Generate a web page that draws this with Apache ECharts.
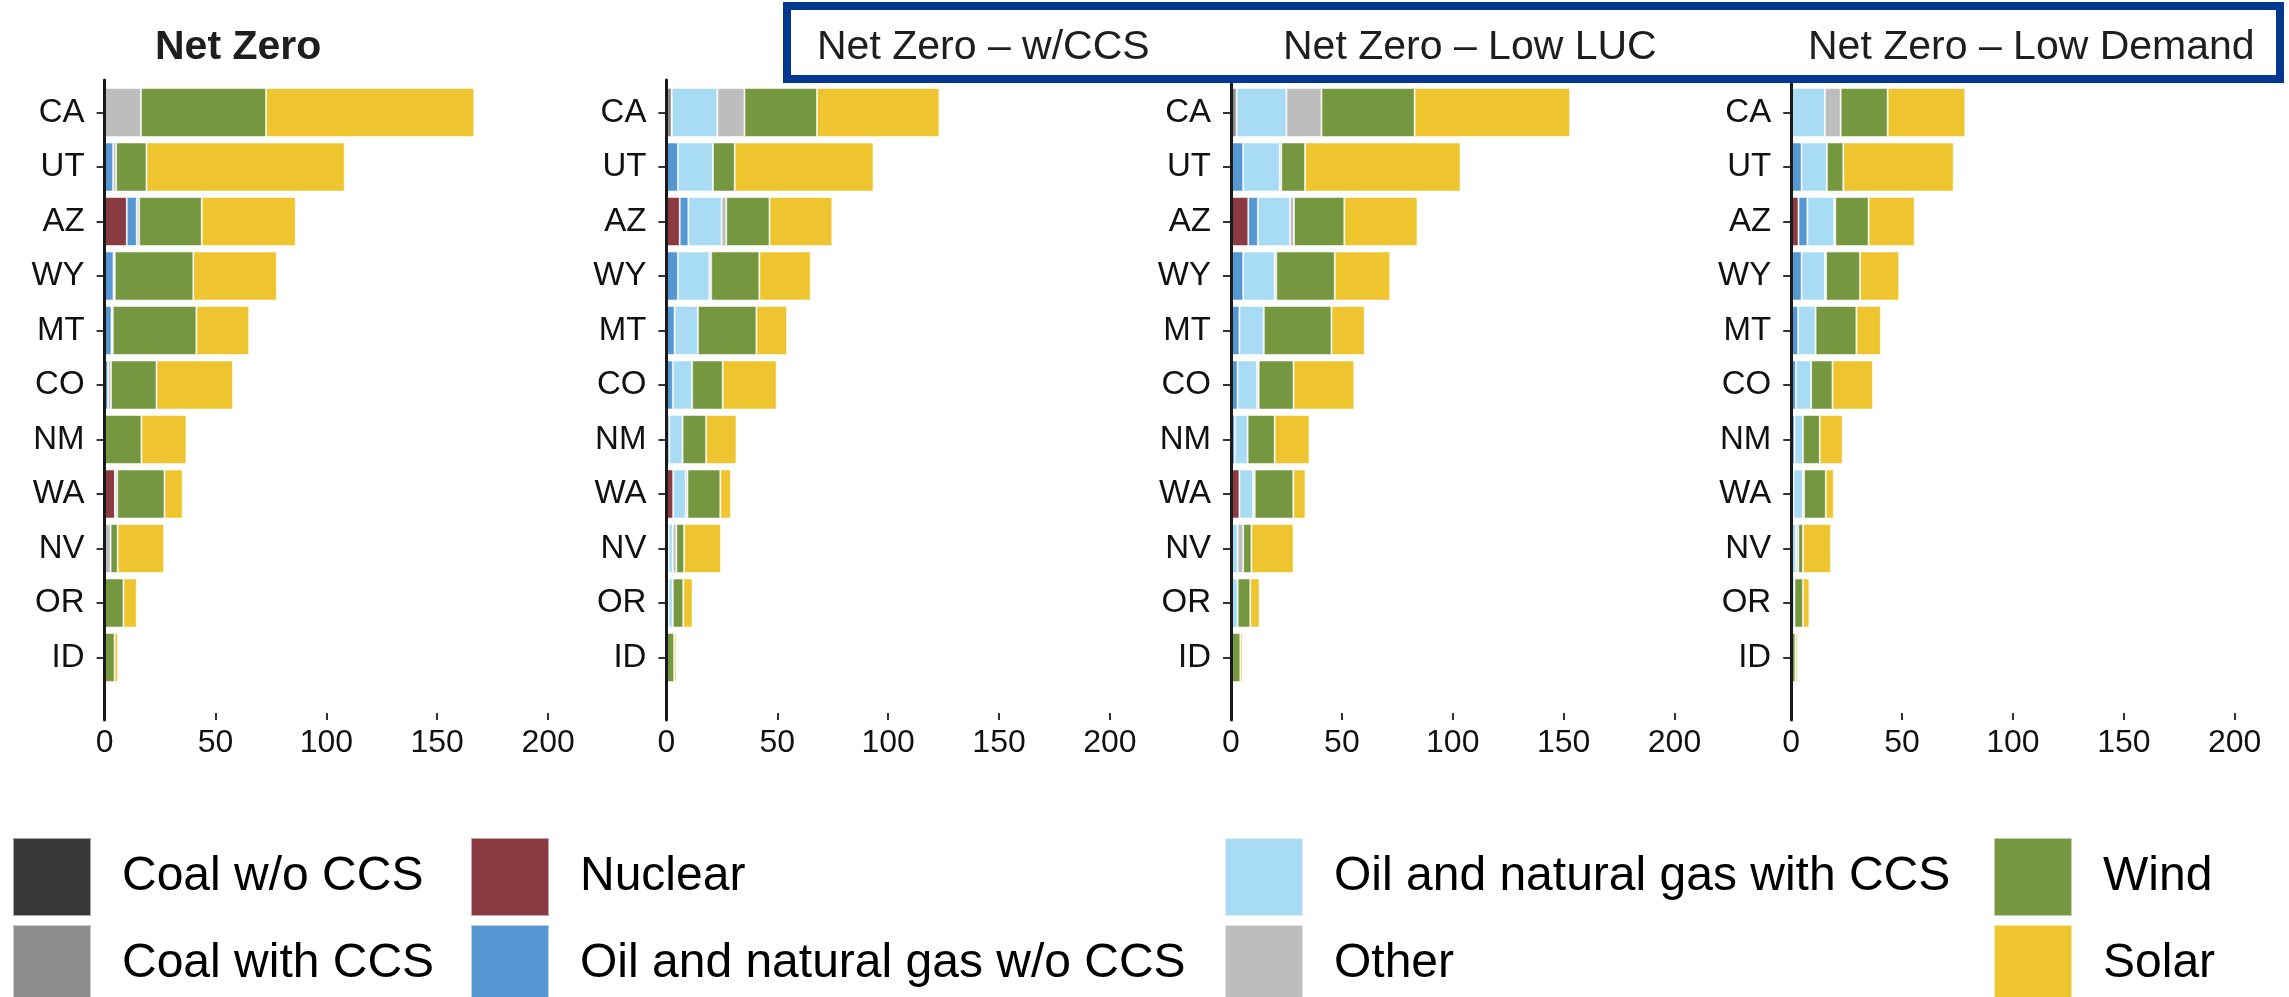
<!DOCTYPE html>
<html>
<head>
<meta charset="utf-8">
<script src="https://cdn.jsdelivr.net/npm/echarts@6/dist/echarts.min.js"></script>
<style>
  html, body { margin: 0; padding: 0; background: #ffffff; }
  #chart { width: 2289px; height: 997px; }
</style>
</head>
<body>
<div id="chart"></div>
<script>
// ---------- data ----------
const states = ['CA', 'UT', 'AZ', 'WY', 'MT', 'CO', 'NM', 'WA', 'NV', 'OR', 'ID'];
const scenarios = ['Net Zero', 'Net Zero – w/CCS', 'Net Zero – Low LUC', 'Net Zero – Low Demand'];
const techs = ['Coal w/o CCS', 'Coal with CCS', 'Nuclear', 'Oil and natural gas w/o CCS',
               'Oil and natural gas with CCS', 'Other', 'Wind', 'Solar'];
const techColors = ['#383838', '#8c8c8c', '#8b3a42', '#5597d3', '#a8dcf5', '#bdbdbd', '#74973f', '#eec52e'];
const xTicks = [0, 50, 100, 150, 200];

// Net Zero
const nz_coalWo   = [0, 0, 0, 0, 0, 0, 0, 0, 0, 0, 0];
const nz_coalWith = [0, 0, 0, 0, 0, 0, 0, 0, 0, 0, 0];
const nz_nuclear  = [0, 0, 10.0, 0, 0, 0, 0, 4.7, 0, 0, 0];
const nz_gasWo    = [0, 3.9, 4.5, 4.0, 3.1, 1.6, 0, 0, 0, 0, 0];
const nz_gasWith  = [0, 0, 0, 0, 0, 0, 0, 0, 0, 0, 0];
const nz_other    = [16.4, 1.3, 1.1, 0.6, 0.6, 1.3, 0, 1.0, 2.7, 0, 0];
const nz_wind     = [56.4, 13.7, 28.2, 35.4, 37.7, 20.5, 16.6, 21.3, 3.2, 8.5, 4.5];
const nz_solar    = [93.9, 89.4, 42.4, 37.7, 23.8, 34.5, 20.3, 8.2, 20.9, 6.0, 1.5];

// Net Zero – w/CCS
const ccs_coalWo   = [0, 0, 0, 0, 0, 0, 0, 0, 0, 0, 0];
const ccs_coalWith = [2.4, 0, 0, 0, 0, 0, 0, 0, 0, 0, 0];
const ccs_nuclear  = [0, 0, 6.0, 0, 0, 0, 0, 3.1, 0, 0, 0];
const ccs_gasWo    = [0, 5.2, 3.9, 5.2, 3.7, 2.9, 1.3, 0, 1.0, 1.0, 0];
const ccs_gasWith  = [20.6, 15.8, 15.0, 14.2, 10.5, 8.7, 6.0, 5.6, 1.9, 1.9, 0];
const ccs_other    = [12.2, 0, 2.1, 0.8, 0, 0, 0, 0.8, 1.6, 0, 0];
const ccs_wind     = [32.7, 9.8, 19.5, 21.7, 26.4, 13.8, 10.6, 14.8, 3.5, 4.7, 3.5];
const ccs_solar    = [55.2, 62.6, 28.3, 23.2, 13.8, 24.3, 13.7, 4.8, 16.6, 4.2, 1.0];

// Net Zero – Low LUC
const luc_coalWo   = [0, 0, 0, 0, 0, 0, 0, 0, 0, 0, 0];
const luc_coalWith = [2.5, 0, 0, 0, 0, 0, 0, 0, 0, 0, 0];
const luc_nuclear  = [0, 0, 7.8, 0, 0, 0, 0, 3.8, 0, 0, 0];
const luc_gasWo    = [0, 5.5, 4.3, 5.5, 3.8, 3.0, 1.7, 0, 0, 0, 0];
const luc_gasWith  = [22.5, 16.5, 14.5, 14.2, 11.0, 8.7, 5.8, 6.2, 3.0, 3.0, 0];
const luc_other    = [15.8, 0.7, 1.8, 0.7, 0, 0.8, 0, 0.7, 2.5, 0, 0];
const luc_wind     = [42.0, 10.7, 22.7, 26.4, 30.5, 15.7, 12.2, 17.4, 3.7, 5.7, 4.2];
const luc_solar    = [70.1, 70.1, 33.0, 25.0, 15.0, 27.4, 15.7, 5.5, 19.0, 4.2, 1.0];

// Net Zero – Low Demand
const ld_coalWo   = [0, 0, 0, 0, 0, 0, 0, 0, 0, 0, 0];
const ld_coalWith = [0, 0, 0, 0, 0, 0, 0, 0, 0, 0, 0];
const ld_nuclear  = [0, 0, 3.3, 0, 0, 0, 0, 1.0, 0, 0, 0];
const ld_gasWo    = [0, 4.7, 4.0, 4.7, 3.1, 2.1, 1.5, 0, 0, 0, 0];
const ld_gasWith  = [15.2, 11.4, 12.1, 10.5, 7.9, 6.9, 3.8, 4.3, 2.2, 1.5, 0];
const ld_other    = [7.1, 0, 0.5, 0.5, 0, 0, 0, 0.5, 1.0, 0, 0];
const ld_wind     = [21.2, 7.4, 15.0, 15.3, 18.4, 9.6, 7.6, 9.8, 2.1, 3.8, 1.9];
const ld_solar    = [35.0, 49.8, 20.8, 17.7, 11.0, 18.3, 10.3, 3.6, 12.6, 2.9, 1.0];

const scenarioData = [
  [nz_coalWo, nz_coalWith, nz_nuclear, nz_gasWo, nz_gasWith, nz_other, nz_wind, nz_solar],
  [ccs_coalWo, ccs_coalWith, ccs_nuclear, ccs_gasWo, ccs_gasWith, ccs_other, ccs_wind, ccs_solar],
  [luc_coalWo, luc_coalWith, luc_nuclear, luc_gasWo, luc_gasWith, luc_other, luc_wind, luc_solar],
  [ld_coalWo, ld_coalWith, ld_nuclear, ld_gasWo, ld_gasWith, ld_other, ld_wind, ld_solar]
];

// ---------- layout ----------
const FONT = 'Liberation Sans, Arial, Helvetica, sans-serif';
const panelLeft = [104.6, 666.4, 1231, 1791.2];
const panelWidth = 443.5;
const barTop = 85.25, barHeight = 599.5;   // 11 bands of 54.5 px
const lineTop = 80, lineHeight = 640;

const grid = [], xAxis = [], yAxis = [], series = [];

scenarios.forEach((sc, s) => {
  grid.push({ left: panelLeft[s], width: panelWidth, top: barTop, height: barHeight, containLabel: false });
  xAxis.push({
    gridIndex: s, type: 'value', min: xTicks[0], max: xTicks[xTicks.length - 1], interval: 50,
    position: 'bottom', offset: 713 - (barTop + barHeight),
    axisLine: { show: false },
    axisTick: { show: true, length: 7, lineStyle: { color: '#333', width: 2 } },
    axisLabel: { fontSize: 32, color: '#111', margin: 14, fontFamily: FONT },
    splitLine: { show: false }
  });
  yAxis.push({
    gridIndex: s, type: 'category', inverse: true, data: states,
    axisLine: { show: false },
    axisTick: { show: true, alignWithLabel: true, length: 8, lineStyle: { color: '#333', width: 2 } },
    axisLabel: { fontSize: 33, color: '#111', margin: 20, fontFamily: FONT },
    splitLine: { show: false }
  });
  techs.forEach((t, k) => {
    series.push({
      type: 'bar', name: t, xAxisIndex: s, yAxisIndex: s, stack: 'stack' + s,
      data: scenarioData[s][k],
      barWidth: '90%',
      itemStyle: { color: techColors[k], borderColor: 'rgba(255,255,255,0.55)', borderWidth: 1 },
      emphasis: { disabled: true },
      silent: true
    });
  });
});

// separate grids that only carry the vertical axis line of each panel
scenarios.forEach((sc, s) => {
  grid.push({ left: panelLeft[s], width: panelWidth, top: lineTop, height: lineHeight });
  xAxis.push({ gridIndex: 4 + s, type: 'value', min: 0, max: 200, show: false });
  yAxis.push({
    gridIndex: 4 + s, type: 'value', min: 0, max: 1, z: 10,
    axisLine: { show: true, lineStyle: { color: '#1a1a1a', width: 3 } },
    axisTick: { show: false }, axisLabel: { show: false }, splitLine: { show: false }
  });
});

const titleLefts = [155, 817, 1283, 1808];
const title = scenarios.map((sc, s) => ({
  text: sc, left: titleLefts[s], top: 27, padding: 0,
  textStyle: { fontSize: 41, fontWeight: s === 0 ? 'bold' : 'normal', color: '#1e1e1e', fontFamily: FONT }
}));

const legendCols = [
  { left: 12,   data: [techs[0], techs[1]] },
  { left: 470,  data: [techs[2], techs[3]] },
  { left: 1224, data: [techs[4], techs[5]] },
  { left: 1993, data: [techs[6], techs[7]] }
];
const legend = legendCols.map(c => ({
  orient: 'vertical', left: c.left, top: 837, height: 240, width: 900, padding: 0,
  itemWidth: 78, itemHeight: 78, itemGap: 7, icon: 'rect',
  selectedMode: false,
  data: c.data,
  textStyle: { fontSize: 48, color: '#000', fontFamily: FONT, padding: [0, 0, 0, 26] }
}));

const chart = echarts.init(document.getElementById('chart'), null, { renderer: 'canvas' });
chart.setOption({
  animation: false,
  backgroundColor: '#ffffff',
  textStyle: { fontFamily: FONT },
  title, legend, grid, xAxis, yAxis, series,
  graphic: [{
    type: 'rect', left: 783, top: 2, z: 100,
    shape: { x: 0, y: 0, width: 1493, height: 73 },
    style: { fill: 'none', stroke: '#033891', lineWidth: 8 }
  }]
});
</script>
</body>
</html>
